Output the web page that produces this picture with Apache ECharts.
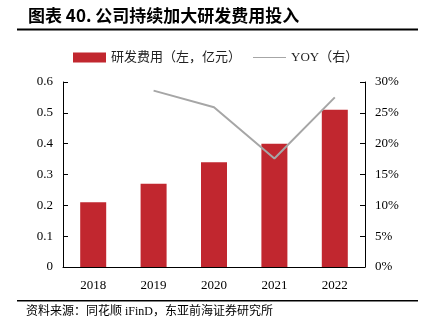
<!DOCTYPE html>
<html>
<head>
<meta charset="utf-8">
<script src="https://cdn.jsdelivr.net/npm/echarts@6/dist/echarts.min.js"></script>
<style>
  html, body { margin: 0; padding: 0; background: #fff; }
  #chart { width: 428px; height: 335px; }
</style>
</head>
<body>
<div id="chart"></div>
<script>
// R&D spending (100 million CNY) and its year-over-year growth
const years = ['2018', '2019', '2020', '2021', '2022'];
const rdExpense = [0.21, 0.27, 0.34, 0.40, 0.51];
const yoyGrowth = [null, 0.286, 0.259, 0.176, 0.275];
const leftTicks = { min: 0, max: 0.6, interval: 0.1 };
const rightTicks = { min: 0, max: 0.3, interval: 0.05 };

const serif = '"Liberation Serif", "Noto Sans CJK SC", serif';
const chart = echarts.init(document.getElementById('chart'));

chart.setOption({
  animation: false,
  textStyle: { fontFamily: serif },
  graphic: [
    { type: 'text', left: 28, top: 7,
      style: { text: '图表 40. 公司持续加大研发费用投入', font: 'bold 17px "Noto Sans CJK SC", sans-serif', fill: '#000' } },
    { type: 'rect', shape: { x: 17, y: 28.5, width: 401, height: 2 }, style: { fill: '#000' } },
    { type: 'rect', shape: { x: 17, y: 300, width: 401, height: 1.5 }, style: { fill: '#000' } },
    { type: 'text', left: 26, top: 306,
      style: { text: '资料来源：同花顺 iFinD，东亚前海证券研究所', font: '12px ' + serif, fill: '#000' } }
  ],
  legend: {
    top: 46,
    left: 68,
    itemGap: 12,
    itemWidth: 33,
    itemHeight: 10,
    textStyle: { fontSize: 13, color: '#222', fontFamily: serif },
    data: [
      { name: '研发费用（左，亿元）', icon: 'rect' },
      { name: 'YOY（右）', icon: 'path://M0,0 H33 V1 H0 Z', itemStyle: { color: '#a6a6a6' } }
    ]
  },
  grid: { left: 63, right: 63, top: 82, bottom: 68 },
  xAxis: {
    type: 'category',
    data: years,
    axisTick: { show: false },
    axisLine: { lineStyle: { color: '#000', width: 1 } },
    axisLabel: { color: '#000', fontSize: 13, margin: 12 }
  },
  yAxis: [
    {
      type: 'value', ...leftTicks,
      splitLine: { show: false },
      axisLine: { show: true, lineStyle: { color: '#000' } },
      axisTick: { show: true, inside: true, length: 5, lineStyle: { color: '#000' } },
      axisLabel: { color: '#000', fontSize: 13, margin: 10, formatter: v => v === 0 ? '0' : v.toFixed(1) }
    },
    {
      type: 'value', ...rightTicks,
      splitLine: { show: false },
      axisLine: { show: true, lineStyle: { color: '#000' } },
      axisTick: { show: true, inside: true, length: 5, lineStyle: { color: '#000' } },
      axisLabel: { color: '#000', fontSize: 13, margin: 10, formatter: v => Math.round(v * 100) + '%' }
    }
  ],
  series: [
    {
      name: '研发费用（左，亿元）',
      type: 'bar',
      data: rdExpense,
      barWidth: 26,
      itemStyle: { color: '#c1272f' }
    },
    {
      name: 'YOY（右）',
      type: 'line',
      yAxisIndex: 1,
      data: yoyGrowth,
      symbol: 'none',
      lineStyle: { color: '#a6a6a6', width: 2 },
      itemStyle: { color: '#a6a6a6' }
    }
  ]
});
</script>
</body>
</html>
